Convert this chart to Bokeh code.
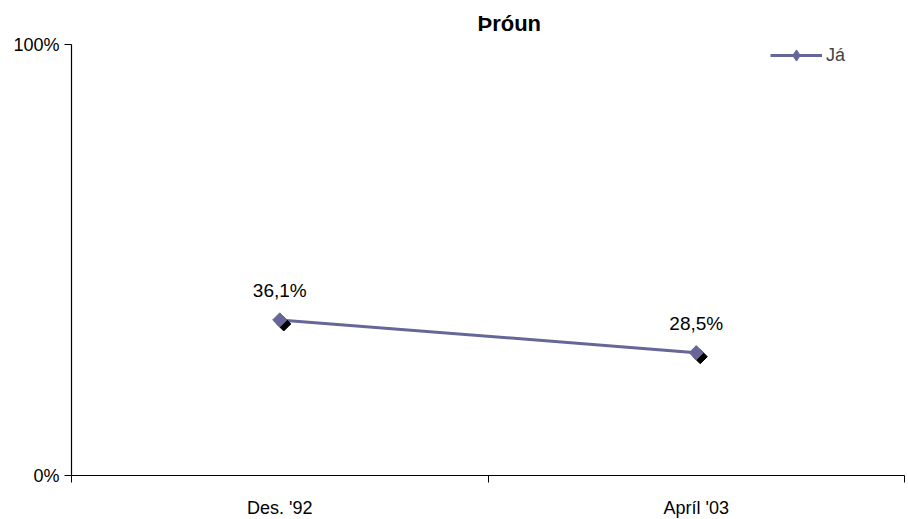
import math
from bokeh.plotting import figure
from bokeh.models import (ColumnDataSource, FixedTicker, NumeralTickFormatter, Range1d,
                          Legend, LegendItem)
from bokeh.transform import dodge
from bokeh.core.properties import value
from bokeh.embed import file_html
from bokeh.resources import INLINE

# ---- data ----
categories = ["Des. '92", "Apríl '03"]
series_name = "Já"
values_pct = [36.1, 28.5]
y_ticks = [0, 1]
title_text = "Þróun"

FONT = "Liberation Sans"
COLOR = "#666699"

xs = [i + 0.5 for i in range(len(categories))]
ys = [v / 100 for v in values_pct]
labels = [f"{v:.1f}%".replace(".", ",") for v in values_pct]
src = ColumnDataSource(dict(x=xs, y=ys, label=labels))

p = figure(frame_width=833, frame_height=431, output_backend="svg", toolbar_location=None,
           x_range=Range1d(0, len(categories)), y_range=Range1d(0, 1),
           min_border_left=71, min_border_right=4, min_border_top=43, min_border_bottom=45)

p.title.text = title_text
p.title.text_font = FONT
p.title.text_font_size = "22px"
p.title.text_font_style = "bold"
p.title.text_color = "black"
p.title.text_line_height = 0.8
p.title.align = "left"
p.title.offset = 406
p.title.standoff = 17

p.grid.visible = False
p.outline_line_color = None
p.background_fill_color = "white"
p.border_fill_color = "white"

# x axis: labels at category centres, ticks at boundaries (minor ticks)
xa = p.xaxis[0]
xa.ticker = FixedTicker(ticks=xs, minor_ticks=list(range(len(categories) + 1)))
xa.major_label_overrides = {x: c for x, c in zip(xs, categories)}
xa.major_tick_out = 0
xa.major_tick_in = 0
xa.minor_tick_out = 7
xa.minor_tick_in = 0
xa.minor_tick_line_color = "black"
xa.axis_line_color = "black"
xa.axis_line_width = 1.2
xa.major_label_text_font = FONT
xa.major_label_text_font_size = "18px"
xa.major_label_text_color = "black"
xa.major_label_standoff = 15

ya = p.yaxis[0]
ya.ticker = FixedTicker(ticks=y_ticks, minor_ticks=[])
ya.formatter = NumeralTickFormatter(format="0%")
ya.major_tick_out = 7
ya.major_tick_in = 0
ya.major_tick_line_color = "black"
ya.axis_line_color = "black"
ya.axis_line_width = 1.2
ya.major_label_text_font = FONT
ya.major_label_text_font_size = "18px"
ya.major_label_text_color = "black"
ya.major_label_standoff = 5

line = p.line("x", "y", source=src, line_color=COLOR, line_width=3)
# legend-only diamond, hidden beneath the plotted markers
leg_mk = p.scatter("x", "y", source=src, marker="diamond", size=10,
                   fill_color=COLOR, line_color=COLOR)
# marker shadow
p.scatter(x=dodge("x", 0.0096), y=dodge("y", -0.0093), source=src, marker="square",
          angle=math.pi / 4, size=10, fill_color="black", line_color="black")
mk = p.scatter("x", "y", source=src, marker="square", angle=math.pi / 4, size=10,
               fill_color=COLOR, line_color=COLOR)

p.text("x", "y", text="label", source=src, text_font=value(FONT), text_font_size="19px",
       text_align="center", text_baseline="alphabetic", y_offset=-29, text_color="black")

legend = Legend(items=[LegendItem(label=series_name, renderers=[line, leg_mk])],
                location=(699, 406), glyph_width=52, glyph_height=28,
                label_standoff=4, padding=0, margin=0, spacing=0,
                border_line_color=None, background_fill_alpha=0,
                label_text_font=FONT, label_text_font_size="18px")
p.add_layout(legend)

open("out.html", "w").write(file_html(p, INLINE))
